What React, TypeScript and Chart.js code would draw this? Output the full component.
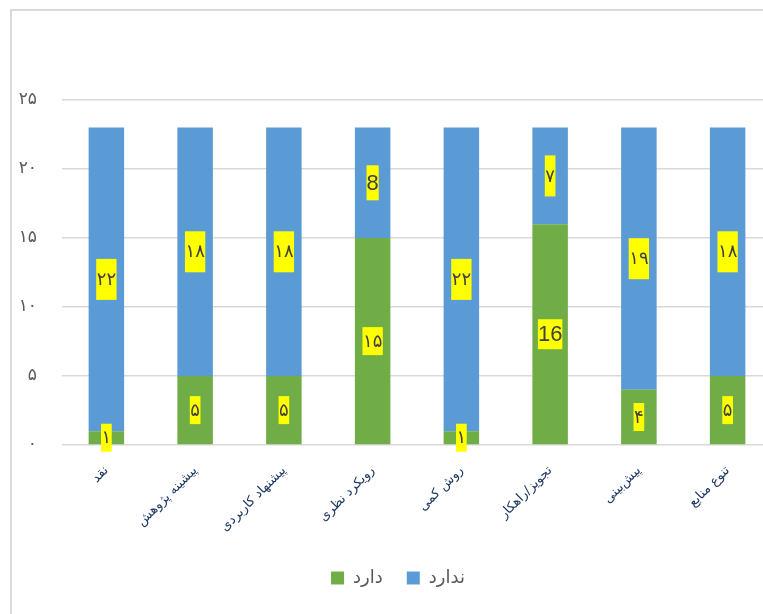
import React, { useEffect, useRef } from "react";
import { Chart, registerables } from "chart.js";

Chart.register(...registerables);

const categories = [
  "نقد",
  "پیشینه پژوهش",
  "پیشنهاد کاربردی",
  "رویکرد نظری",
  "روش کمی",
  "تجویز/راهکار",
  "پیش‌بینی",
  "تنوع منابع",
];

const hasValues = [1, 5, 5, 15, 1, 16, 4, 5];
const hasNotValues = [22, 18, 18, 8, 22, 7, 19, 18];

const hasLabelText = ["۱", "۵", "۵", "۱۵", "۱", "16", "۴", "۵"];
const hasNotLabelText = ["۲۲", "۱۸", "۱۸", "8", "۲۲", "۷", "۱۹", "۱۸"];

const seriesNames = ["دارد", "ندارد"];
const yTickValues = [0, 5, 10, 15, 20, 25];

const faDigits = "۰۱۲۳۴۵۶۷۸۹";
const toFa = (v: number | string) =>
  String(v).replace(/\d/g, (d) => faDigits[Number(d)]);

const frameAndLegendPlugin = {
  id: "frameAndLegend",
  afterLayout(chart: any) {
    const lg = chart.legend;
    if (lg) {
      lg.left += 6;
      lg.right += 6;
    }
  },
  beforeDraw(chart: any) {
    const ctx = chart.ctx;
    ctx.save();
    ctx.fillStyle = "#d9d9d9";
    ctx.fillRect(10, 9, 2, chart.height);
    ctx.fillRect(10, 9, chart.width, 2);
    ctx.restore();
  },
};

const labelPlugin = {
  id: "yellowLabels",
  afterDatasetsDraw(chart: any) {
    const ctx = chart.ctx;
    ctx.save();
    chart.data.datasets.forEach((ds: any, di: number) => {
      const meta = chart.getDatasetMeta(di);
      const texts = di === 0 ? hasLabelText : hasNotLabelText;
      meta.data.forEach((bar: any, i: number) => {
        const { x, y, base } = bar.getProps(["x", "y", "base"], true);
        const cy = (y + base) / 2;
        const text = texts[i];
        const latin = /^[0-9]+$/.test(text);
        ctx.font = latin ? '22px "Liberation Sans"' : '18px "DejaVu Sans"';
        const w = ctx.measureText(text).width;
        const bw = w + (latin ? 0 : 1);
        const bh = latin ? (di === 0 ? 30 : 35) : di === 0 ? 28 : 41;
        ctx.fillStyle = "#FFFF00";
        ctx.fillRect(x - bw / 2, cy - bh / 2, bw, bh);
        ctx.fillStyle = "#404040";
        ctx.textAlign = "center";
        ctx.textBaseline = "middle";
        ctx.fillText(text, x, cy + 1);
      });
    });
    ctx.restore();
  },
};

export default function App() {
  const ref = useRef<HTMLCanvasElement | null>(null);

  useEffect(() => {
    if (!ref.current) return;
    const chart = new Chart(ref.current, {
      type: "bar",
      data: {
        labels: categories,
        datasets: [
          {
            label: seriesNames[0],
            data: hasValues,
            backgroundColor: "#70AD47",
            borderWidth: 0,
            categoryPercentage: 1,
            barPercentage: 0.4,
          },
          {
            label: seriesNames[1],
            data: hasNotValues,
            backgroundColor: "#5B9BD5",
            borderWidth: 0,
            categoryPercentage: 1,
            barPercentage: 0.4,
          },
        ],
      },
      options: {
        responsive: false,
        animation: false,
        layout: { padding: { left: 12, right: 18, top: 100, bottom: 17 } },
        plugins: {
          legend: {
            position: "bottom",
            labels: {
              boxWidth: 13,
              boxHeight: 13,
              padding: 24,
              color: "#595959",
              font: { family: "DejaVu Sans", size: 18 },
            },
          },
          tooltip: { enabled: false },
        },
        scales: {
          x: {
            stacked: true,
            grid: { display: false },
            border: { display: false },
            ticks: {
              color: "#1F3864",
              font: { family: "DejaVu Sans", size: 13 },
              minRotation: 45,
              maxRotation: 45,
              autoSkip: false,
              padding: 10,
            },
            afterFit: (s: any) => {
              s.height = 100;
            },
          },
          y: {
            stacked: true,
            min: 0,
            max: 25,
            afterBuildTicks: (s: any) => {
              s.ticks = yTickValues.map((v) => ({ value: v }));
            },
            ticks: {
              stepSize: 5,
              padding: 25,
              color: "#595959",
              font: { family: "DejaVu Sans", size: 17 },
              callback: (v: any) => toFa(v),
            },
            grid: { color: "#d9d9d9", lineWidth: 1.5, drawTicks: false },
            border: { display: false },
            afterFit: (s: any) => {
              s.width = 50;
            },
          },
        },
      },
      plugins: [frameAndLegendPlugin, labelPlugin],
    });
    return () => chart.destroy();
  }, []);

  return (
    <div
      style={{
        position: "fixed",
        left: 0,
        top: 0,
        width: 763,
        height: 614,
        overflow: "hidden",
        background: "#fff",
      }}
    >
      <canvas
        ref={ref}
        width={790}
        height={614}
        style={{ position: "absolute", left: 0, top: 0, width: 790, height: 614 }}
      />
    </div>
  );
}
